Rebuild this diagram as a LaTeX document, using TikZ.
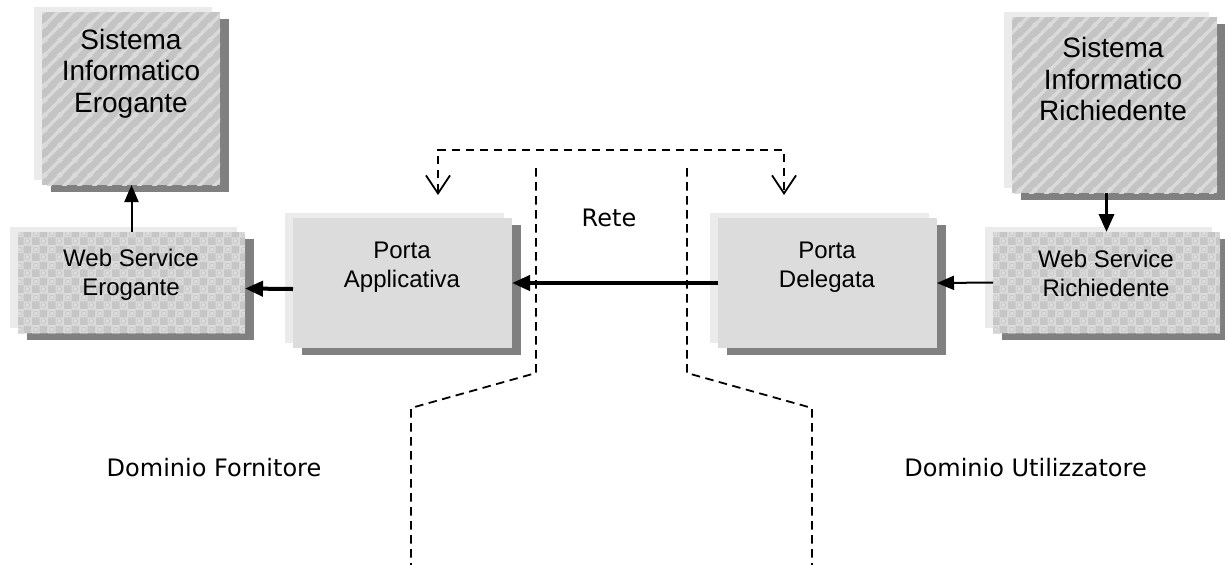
\documentclass[tikz,border=0pt]{standalone}
\usepackage{fontspec}
\setmainfont{Liberation Sans}
\newfontfamily\labelfont{DejaVu Sans}
\usetikzlibrary{arrows.meta,shadows,patterns.meta}

\definecolor{backgray}{HTML}{EBEBEB}
\definecolor{shadowgray}{HTML}{808080}
\definecolor{portafill}{HTML}{DCDCDC}
\definecolor{hatchbase}{HTML}{C4C4C4}
\definecolor{hatchline}{HTML}{DADADA}
\definecolor{checklight}{HTML}{DBDBDB}
\definecolor{checkdark}{HTML}{C6C6C6}

% diagonal stripes for the information systems
\tikzdeclarepattern{
  name=sysstripes,
  type=uncolored,
  bounding box={(0pt,0pt) and (7.5pt,7.5pt)},
  tile size={(7.5pt,7.5pt)},
  code={
    \draw[line width=1.8pt] (-7.5pt,0pt) -- (7.5pt,15pt)
                            (-7.5pt,-7.5pt) -- (15pt,15pt)
                            (0pt,-7.5pt) -- (15pt,7.5pt);
  }
}

% checkered texture for the web services (dark cells and rings)
\tikzdeclarepattern{
  name=wschecker,
  type=uncolored,
  bounding box={(0pt,0pt) and (8pt,8pt)},
  tile size={(8pt,8pt)},
  code={
    \fill (0pt,0pt) rectangle (4pt,4pt) (4pt,4pt) rectangle (8pt,8pt);
    \draw[line width=0.3pt] (2pt,6pt) circle (1.3pt) (6pt,2pt) circle (1.3pt);
  }
}

\tikzset{
  layered/.style={inner sep=0pt, outer sep=0pt, draw=none,
    general shadow={fill=backgray, shadow xshift=-4.25pt, shadow yshift=2.75pt},
    general shadow={fill=shadowgray, shadow xshift=4.25pt, shadow yshift=-3.25pt}},
  sysbox/.style={layered, fill=hatchbase,
    postaction={pattern=sysstripes, pattern color=hatchline}},
  wsbox/.style={layered, fill=checklight,
    postaction={pattern=wschecker, pattern color=checkdark}},
  portabox/.style={layered, fill=portafill},
  systext/.style={font=\fontsize{14}{15.75}\selectfont, align=center, inner sep=0pt},
  boxtext/.style={font=\fontsize{12}{14.5}\selectfont, align=center, inner sep=0pt},
  labeltext/.style={font=\labelfont\fontsize{12}{14.4}\selectfont, inner sep=0pt},
  flowthin/.style={line width=1pt, -{Triangle[length=8.5pt,width=7pt]}},
  flowthick/.style={line width=2pt, -{Triangle[length=9pt,width=7.5pt]}},
  netdash/.style={line width=0.9pt, dash pattern=on 4.25pt off 2.75pt},
  notify/.style={netdash,
    {Straight Barb[length=9pt,width=12pt]}-{Straight Barb[length=9pt,width=12pt]}},
}

\begin{document}
\begin{tikzpicture}[x=0.5pt,y=-0.5pt]
\fill[white] (0,0) rectangle (1225,564);
\useasboundingbox (0,0) rectangle (1225,564);

% provider side
\node[sysbox, minimum width=89pt, minimum height=86.5pt] (se) at (131,98.5) {};
\node[systext] (se-t) at (131,73.5) {Sistema\\Informatico\\Erogante};
\node[wsbox, minimum width=113.5pt, minimum height=50.5pt] (we) at (131.5,282.5) {};
\node[boxtext] (we-t) at (131,275) {Web Service\\Erogante};
\node[portabox, minimum width=109.5pt, minimum height=65pt] (pa) at (402.5,283) {};
\node[boxtext] (pa-t) at (402,267.5) {Porta\\Applicativa};

% requester side
\node[sysbox, minimum width=102.5pt, minimum height=88pt] (sr) at (1114.5,105) {};
\node[systext] (sr-t) at (1113,79) {Sistema\\Informatico\\Richiedente};
\node[wsbox, minimum width=113.5pt, minimum height=50.5pt] (wr) at (1106.5,282.5) {};
\node[boxtext] (wr-t) at (1106,273.5) {Web Service\\Richiedente};
\node[portabox, minimum width=109.5pt, minimum height=65pt] (pd) at (827.5,283) {};
\node[boxtext] (pd-t) at (827,267) {Porta\\Delegata};

% labels
\node[labeltext] (rete) at (609,217.5) {Rete};
\node[labeltext] (dforn) at (214,467.5) {Dominio Fornitore};
\node[labeltext] (dutil) at (1025.5,467.5) {Dominio Utilizzatore};

% network boundaries
\draw[netdash] (536,168) -- (536,373) -- (411,408) -- (411,570);
\draw[netdash] (687,168) -- (687,373) -- (812,408) -- (812,570);

% notification between the two gateways
\coordinate (pa-in) at (438,195);
\coordinate (pd-in) at (784,195);
\draw[notify] (pa-in) -- ++(0,-45) -| (pd-in);

% message flow
\draw[flowthick, line width=1.75pt] (wr.north |- sr.south) -- (wr.north);
\draw[flowthin] (wr.west) -- (pd.east);
\draw[flowthick] (pd.west) -- (pa.east);
\draw[flowthick] ([yshift=-3pt]pa.west) -- ([yshift=-3pt]we.east);
\draw[flowthin] (we.north) -- (we.north |- se.south);
\end{tikzpicture}
\end{document}
